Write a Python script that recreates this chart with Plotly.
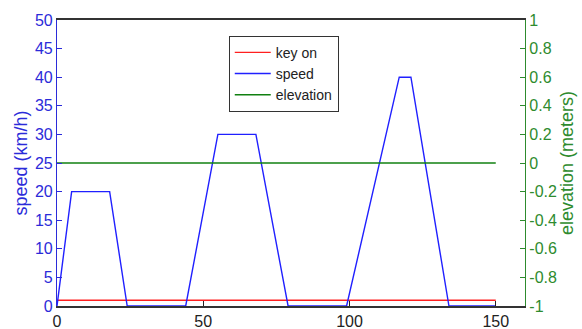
import plotly.graph_objects as go

# data
time_x = [0, 150]
key_on = [1, 1]
speed_t = [0, 5, 18, 24, 44, 55, 68, 79, 99, 117, 121, 134, 150]
speed_v = [0, 20, 20, 0, 0, 30, 30, 0, 0, 40, 40, 0, 0]
elev_t = [0, 150]
elev_v = [0, 0]

left_ticks = [0, 5, 10, 15, 20, 25, 30, 35, 40, 45, 50]
right_vals = [-1, -0.8, -0.6, -0.4, -0.2, 0, 0.2, 0.4, 0.6, 0.8, 1]
right_text = ["-1", "-0.8", "-0.6", "-0.4", "-0.2", "0", "0.2", "0.4", "0.6", "0.8", "1"]
x_ticks = [0, 50, 100, 150]

BLUE = "#2b2bd9"
GREEN = "#2e8b2e"
FONT = "Liberation Sans, Arial, sans-serif"

fig = go.Figure()
fig.add_trace(go.Scatter(x=time_x, y=key_on, mode="lines", name="key on",
                         line=dict(color="#ff2020", width=1.4)))
fig.add_trace(go.Scatter(x=speed_t, y=speed_v, mode="lines", name="speed",
                         line=dict(color="#2020ff", width=1.4)))
fig.add_trace(go.Scatter(x=elev_t, y=elev_v, mode="lines", name="elevation",
                         yaxis="y2", line=dict(color="#108010", width=1.3)))

fig.update_layout(
    width=582, height=329,
    margin=dict(l=57, r=57, t=20, b=23),
    paper_bgcolor="white", plot_bgcolor="white",
    font=dict(family=FONT, size=13, color="#222"),
    showlegend=True,
    legend=dict(x=0.367, y=0.945, xanchor="left", yanchor="top",
                bordercolor="#333", borderwidth=1, bgcolor="white",
                font=dict(size=14, color="#222"), tracegroupgap=0,
                itemwidth=36),
    xaxis=dict(range=[0, 160], tickvals=x_ticks, ticks="inside", ticklen=5,
               tickcolor="#222", showgrid=False, zeroline=False,
               showline=True, linecolor="#333", mirror=True, linewidth=1.5,
               layer="above traces", automargin=False,
               tickfont=dict(size=16, color="#222")),
    yaxis=dict(range=[0, 50], tickvals=left_ticks, ticks="inside", ticklen=5,
               tickcolor=BLUE, showgrid=False, zeroline=False,
               showline=True, linecolor=BLUE, linewidth=1.2, automargin=False,
               tickfont=dict(size=16, color=BLUE),
               title=dict(text="speed (km/h)", font=dict(size=18, color=BLUE), standoff=2)),
    yaxis2=dict(range=[-1, 1], tickvals=right_vals, ticktext=right_text,
                overlaying="y", side="right", ticks="inside", ticklen=5,
                tickcolor=GREEN, showgrid=False, zeroline=False,
                showline=True, linecolor=GREEN, linewidth=1.2, automargin=False,
                tickfont=dict(size=16, color=GREEN),
                title=dict(text="elevation (meters)", font=dict(size=18, color=GREEN), standoff=2)),
)

fig.write_html("out.html", config={"displayModeBar": False},
               post_script="document.body.style.margin='0';document.body.style.overflow='hidden';")
